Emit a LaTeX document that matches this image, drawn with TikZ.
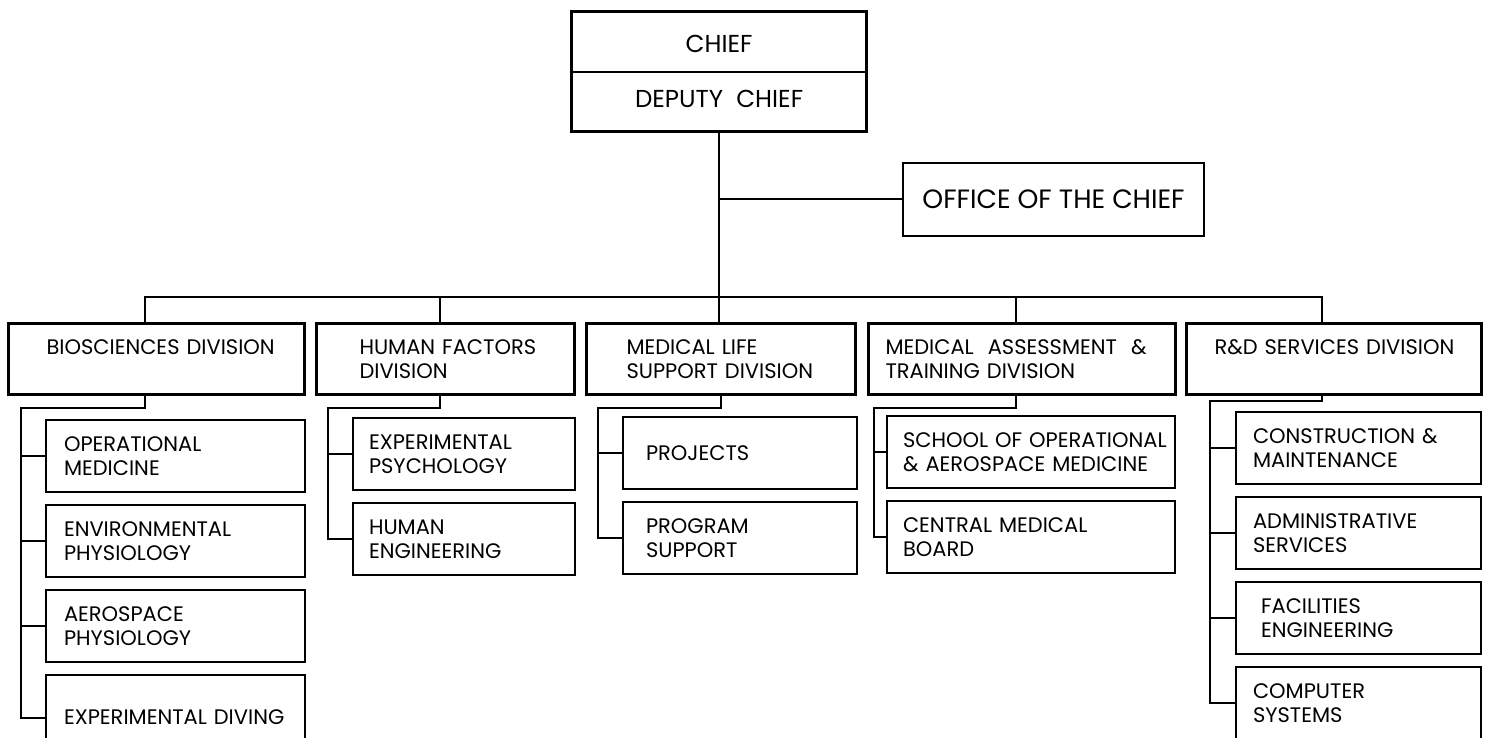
\documentclass[tikz,border=0pt]{standalone}
\usepackage{fontspec}
\setmainfont{Poppins}
\usetikzlibrary{positioning}

\hyphenpenalty=10000
\exhyphenpenalty=10000
\hbadness=10000
\hfuzz=200pt

\newcommand{\orgfont}{\fontsize{21}{24}\selectfont}
\newcommand{\headfont}{\fontsize{24.5}{26}\selectfont}

\tikzset{
  divbox/.style={draw, line width=3pt, anchor=north west, align=left,
    minimum height=71pt, inner ysep=0pt, font=\orgfont},
  unitbox/.style={draw, line width=2pt, anchor=north west, align=left,
    minimum height=72pt, inner ysep=0pt, font=\orgfont},
  link/.style={line width=2pt},
}

\begin{document}
\begin{tikzpicture}[x=1pt, y=-1pt]
    \useasboundingbox (0,0) rectangle (1488,738);
    \clip (0,0) rectangle (1488,738);

    % Chief and office
    \node[draw, line width=3.2pt, anchor=north west, minimum width=295pt,
      minimum height=120pt, align=center, font=\headfont] (chief) at (570,10)
      {CHIEF\\[29pt]DEPUTY~~CHIEF};
    \draw[link] (chief.west) -- (chief.east);
    \node[draw, line width=2pt, anchor=north west, minimum width=301pt,
      minimum height=73pt, font=\fontsize{26.5}{28}\selectfont] (office) at (902,162) {OFFICE OF THE CHIEF};

    % Divisions
    \node[divbox, text width=220pt, inner xsep=38pt] (bio) at (7,322) {BIOSCIENCES~DIVISION\\~};
    \node[divbox, text width=172pt, inner xsep=43pt] (hf) at (315,322) {HUMAN~FACTORS\\DIVISION};
    \node[divbox, text width=189pt, inner xsep=40pt] (mls) at (585,322) {MEDICAL~LIFE\\SUPPORT~DIVISION};
    \node[divbox, text width=273pt, inner xsep=17pt] (ma) at (867,322) {MEDICAL~~ASSESSMENT~~\&\\TRAINING~DIVISION};
    \node[divbox, text width=239pt, inner xsep=28pt] (rd) at (1185,322) {R\&D~SERVICES~DIVISION\\~};

    % Biosciences units
    \node[unitbox, text width=223pt, inner xsep=18pt] (opmed) at (45,419) {OPERATIONAL\\MEDICINE};
    \node[unitbox, text width=223pt, inner xsep=18pt, below=11pt of opmed] (envphys) {ENVIRONMENTAL\\PHYSIOLOGY};
    \node[unitbox, text width=223pt, inner xsep=18pt, below=11pt of envphys] (aerophys) {AEROSPACE\\PHYSIOLOGY};
    \node[unitbox, text width=223pt, inner xsep=18pt, minimum height=85pt, below=11pt of aerophys] (diving) {EXPERIMENTAL~DIVING};

    % Human factors units
    \node[unitbox, text width=190pt, inner xsep=16pt] (exppsy) at (352,417) {EXPERIMENTAL\\PSYCHOLOGY};
    \node[unitbox, text width=190pt, inner xsep=16pt, below=11pt of exppsy] (humeng) {HUMAN\\ENGINEERING};

    % Medical life support units
    \node[unitbox, text width=188pt, inner xsep=23pt] (projects) at (622,416) {PROJECTS};
    \node[unitbox, text width=188pt, inner xsep=23pt, below=11pt of projects] (progsup) {PROGRAM\\SUPPORT};

    % Medical assessment units
    \node[unitbox, text width=256pt, inner xsep=16pt] (school) at (886,415) {SCHOOL~OF~OPERATIONAL\\\&~AEROSPACE~MEDICINE};
    \node[unitbox, text width=256pt, inner xsep=16pt, below=11pt of school] (medboard) {CENTRAL~MEDICAL\\BOARD};

    % R&D services units
    \node[unitbox, text width=211pt, inner xsep=17pt] (constr) at (1235,411) {CONSTRUCTION~\&\\MAINTENANCE};
    \node[unitbox, text width=211pt, inner xsep=17pt, below=11pt of constr] (admin) {ADMINISTRATIVE\\SERVICES};
    \node[unitbox, text width=195pt, inner xsep=25pt, below=11pt of admin] (facil) {FACILITIES\\ENGINEERING};
    \node[unitbox, text width=211pt, inner xsep=17pt, below=11pt of facil] (comp) {COMPUTER\\SYSTEMS};

    % Top links
    \draw[link] (chief.south) -- (chief.south |- mls.north);
    \draw[link] (chief.south |- office.west) -- (office.west);
    \draw[link] ([xshift=-12pt]bio.north) -- ++(0,-25) -| ([xshift=-12pt]rd.north);
    \draw[link] ([xshift=-6pt]hf.north) -- ++(0,-25);
    \draw[link] ([xshift=-6pt]ma.north) -- ++(0,-25);

    % Division to unit links
    \draw[link] ([xshift=-12pt]bio.south) -- ++(0,12) -| ([xshift=-24pt]diving.west) -- (diving.west);
    \foreach \u in {opmed,envphys,aerophys}
      \draw[link] (\u.west) -- ++(-24,0);
    \draw[link] ([xshift=-6pt]hf.south) -- ++(0,12) -| ([xshift=-24pt]humeng.west) -- (humeng.west);
    \draw[link] (exppsy.west) -- ++(-24,0);
    \draw[link] (mls.south) -- ++(0,12) -| ([xshift=-24pt]progsup.west) -- (progsup.west);
    \draw[link] (projects.west) -- ++(-24,0);
    \draw[link] ([xshift=-6pt]ma.south) -- ++(0,12) -| ([xshift=-12pt]medboard.west) -- (medboard.west);
    \draw[link] (school.west) -- ++(-12,0);
    \draw[link] ([xshift=-12pt]rd.south) -- ++(0,5) -| ([xshift=-25pt]comp.west) -- (comp.west);
    \foreach \u in {constr,admin}
      \draw[link] (\u.west) -- ++(-25,0);
    \draw[link] (facil.west) -- ++(-25,0);
\end{tikzpicture}
\end{document}
